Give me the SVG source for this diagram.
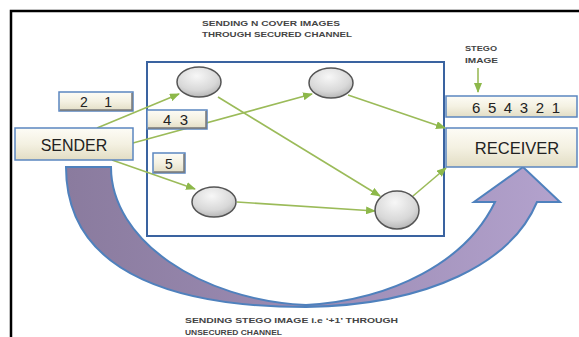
<svg xmlns="http://www.w3.org/2000/svg" width="579" height="337" viewBox="0 0 579 337">
<defs>
<linearGradient id="box" x1="0" y1="0" x2="0" y2="1">
<stop offset="0" stop-color="#fdfcf6"/><stop offset="0.5" stop-color="#f4f1e2"/><stop offset="1" stop-color="#e2ddc4"/>
</linearGradient>
<radialGradient id="ell" cx="0.45" cy="0.3" r="0.8">
<stop offset="0" stop-color="#f7f7f7"/><stop offset="0.6" stop-color="#d8d8d8"/><stop offset="1" stop-color="#a9a9a9"/>
</radialGradient>
<linearGradient id="purp" x1="0" y1="0" x2="1" y2="0">
<stop offset="0" stop-color="#8a7b9e"/><stop offset="0.5" stop-color="#9c8cb4"/><stop offset="1" stop-color="#b3a2cd"/>
</linearGradient>
<marker id="ah" markerUnits="userSpaceOnUse" markerWidth="10" markerHeight="8" refX="9" refY="4" orient="auto">
<path d="M0,0 L10,4 L0,8 z" fill="#8db84a"/>
</marker>
<style>
.lbl{fill:url(#box);stroke:#5b86c0;stroke-width:1.5}
.sh{fill:none;stroke:#777;stroke-width:1.5}
.el{fill:url(#ell);stroke:#555;stroke-width:1.5}
.c{fill:none;stroke:#9bbb59;stroke-width:1.6;marker-end:url(#ah)}
.t{font-family:"Liberation Sans",Arial,sans-serif;fill:#222}
.s{font-family:"Liberation Sans",Arial,sans-serif;font-size:7px;font-weight:bold;fill:#444}
</style>
</defs>
<rect width="579" height="337" fill="#fff"/>
<g id="frame"><path d="M11,337 V11 H579" fill="none" stroke="#000" stroke-width="2.5"/></g>

<g id="channel"><rect x="147" y="62" width="297" height="174" fill="#fff" stroke="#3a63a0" stroke-width="2"/></g>

<g id="unsecured-arrow">
<path d="M66,167 L111,167 C111,240 200,300 306,305 C392,300 466,262 495,202 L474,202 L523,167 L560,202 L537,202 C512,262 430,305 306,307 C190,307 66,280 66,167 Z" fill="url(#purp)" stroke="#4f81bd" stroke-width="2" stroke-linejoin="miter"/>
</g>

<g id="connectors">
<line class="c" x1="97" y1="128" x2="179" y2="94"/>
<line class="c" x1="133" y1="143" x2="312" y2="94"/>
<line class="c" x1="112" y1="160" x2="195" y2="189"/>
<line class="c" x1="218" y1="97" x2="380" y2="196"/>
<line class="c" x1="237" y1="202" x2="375" y2="211"/>
<line class="c" x1="348" y1="95" x2="445" y2="128"/>
<line class="c" x1="413" y1="196" x2="446" y2="168"/>
<line class="c" x1="478" y1="68" x2="478" y2="92"/>
</g>

<g id="node1"><ellipse class="el" cx="199" cy="82" rx="22" ry="15"/></g>
<g id="node2"><ellipse class="el" cx="331" cy="83" rx="22" ry="15"/></g>
<g id="node3"><ellipse class="el" cx="214" cy="202" rx="22" ry="15"/></g>
<g id="node4"><ellipse class="el" cx="397" cy="210" rx="22" ry="19"/></g>

<g id="sender">
<rect class="lbl" x="15" y="128" width="118" height="32"/>
<text class="t" x="74" y="151" font-size="16" text-anchor="middle">SENDER</text>
</g>
<g id="part21">
<rect class="lbl" x="59" y="92" width="74" height="19"/>
<path class="sh" d="M132,93 V110 H60"/>
<text class="t" x="80" y="107" font-size="14" textLength="32" lengthAdjust="spacing">2 1</text>
</g>
<g id="part43">
<rect class="lbl" x="147" y="110" width="60" height="19"/>
<path class="sh" d="M206,111 V128 H148"/>
<text class="t" x="163" y="125" font-size="15" textLength="25" lengthAdjust="spacing">4 3</text>
</g>
<g id="part5">
<rect class="lbl" x="153" y="153" width="32" height="20"/>
<path class="sh" d="M184,154 V172 H154"/>
<text class="t" x="169" y="169" font-size="14" text-anchor="middle">5</text>
</g>
<g id="stego">
<rect class="lbl" x="446" y="96" width="131" height="21"/>
<text class="t" x="472" y="113" font-size="15" textLength="88" lengthAdjust="spacing">6 5 4 3 2 1</text>
</g>
<g id="receiver">
<rect class="lbl" x="446" y="128" width="131" height="39"/>
<text class="t" x="517" y="154" font-size="16.5" text-anchor="middle">RECEIVER</text>
</g>

<g id="labels">
<text class="s" x="202" y="26" textLength="138" lengthAdjust="spacingAndGlyphs">SENDING  N COVER IMAGES</text>
<text class="s" x="202" y="37" textLength="150" lengthAdjust="spacingAndGlyphs">THROUGH SECURED CHANNEL</text>
<text class="s" x="465" y="51" textLength="32" lengthAdjust="spacingAndGlyphs">STEGO</text>
<text class="s" x="465" y="63" textLength="33" lengthAdjust="spacingAndGlyphs">IMAGE</text>
<text class="s" x="185" y="323" textLength="213" lengthAdjust="spacingAndGlyphs">SENDING  STEGO  IMAGE i.e ‘+1’ THROUGH</text>
<text class="s" x="185" y="335" textLength="97" lengthAdjust="spacingAndGlyphs">UNSECURED  CHANNEL</text>
</g>
</svg>
